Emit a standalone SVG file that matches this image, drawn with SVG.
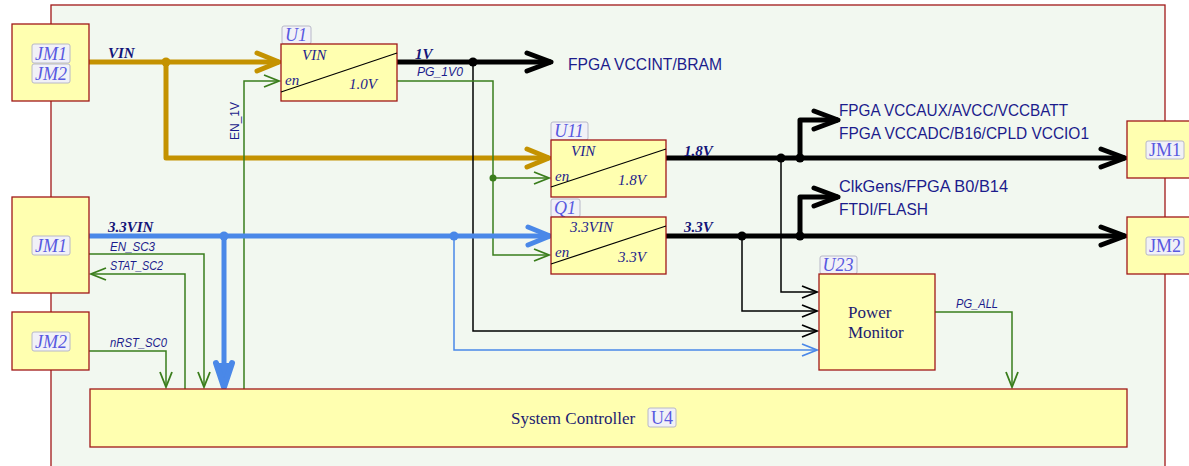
<svg xmlns="http://www.w3.org/2000/svg" width="1189" height="466" viewBox="0 0 1189 466">
<style>
.box{fill:#ffffb0;stroke:#a01818;stroke-width:1.3}
.badge{fill:#f1f1f7;stroke:#b8b8c8;stroke-width:1}
.bt{font-family:"Liberation Serif",serif;font-style:italic;font-size:18px;fill:#5858e0}
.btu{font-family:"Liberation Serif",serif;font-size:18px;fill:#5858e0}
.in{font-family:"Liberation Serif",serif;font-style:italic;font-size:15px;fill:#1c1c8c}
.net{font-family:"Liberation Serif",serif;font-style:italic;font-weight:bold;font-size:15px;fill:#141478}
.sig{font-family:"Liberation Sans",sans-serif;font-style:italic;font-size:12px;fill:#1c1c8c}
.dest{font-family:"Liberation Sans",sans-serif;font-size:17px;fill:#1c1c8c}
.lbl{font-family:"Liberation Serif",serif;font-size:17px;fill:#1c1c70}
.gold{fill:none;stroke:#c49200;stroke-width:5;stroke-linejoin:round}
.blk{fill:none;stroke:#000;stroke-width:5;stroke-linejoin:round}
.blue{fill:none;stroke:#4a88e8;stroke-width:5;stroke-linejoin:round}
.grn{fill:none;stroke:#3a7d1c;stroke-width:1.5}
.blkt{fill:none;stroke:#000;stroke-width:1.5}
.bluet{fill:none;stroke:#4a88e8;stroke-width:1.5}
.diag{stroke:#000;stroke-width:1.2}
</style>
<defs>
<marker id="mGold" markerUnits="userSpaceOnUse" orient="auto" refX="0" refY="0" overflow="visible"><path d="M-22,-9 L0,0 L-22,9" fill="none" stroke="#c49200" stroke-width="5" stroke-linecap="round" stroke-linejoin="round"/></marker>
<marker id="mBlk" markerUnits="userSpaceOnUse" orient="auto" refX="0" refY="0" overflow="visible"><path d="M-24,-9 L0,0 L-24,9" fill="none" stroke="#000" stroke-width="5" stroke-linecap="round" stroke-linejoin="round"/></marker>
<marker id="mBlue" markerUnits="userSpaceOnUse" orient="auto" refX="0" refY="0" overflow="visible"><path d="M-22,-9 L0,0 L-22,9" fill="none" stroke="#4a88e8" stroke-width="5" stroke-linecap="round" stroke-linejoin="round"/></marker>
<marker id="mBlueBig" markerUnits="userSpaceOnUse" orient="auto" refX="0" refY="0" overflow="visible"><path d="M-24,-8 L0,0 L-24,8" fill="#4a88e8" stroke="#4a88e8" stroke-width="6" stroke-linecap="round" stroke-linejoin="round"/></marker>
<marker id="mGrn" markerUnits="userSpaceOnUse" orient="auto" refX="0" refY="0" overflow="visible"><path d="M-15,-6 L0,0 L-15,6" fill="none" stroke="#3a7d1c" stroke-width="1.8"/></marker>
<marker id="mBlkT" markerUnits="userSpaceOnUse" orient="auto" refX="0" refY="0" overflow="visible"><path d="M-15,-6 L0,0 L-15,6" fill="none" stroke="#000" stroke-width="1.8"/></marker>
<marker id="mBlueT" markerUnits="userSpaceOnUse" orient="auto" refX="0" refY="0" overflow="visible"><path d="M-15,-6 L0,0 L-15,6" fill="none" stroke="#4a88e8" stroke-width="1.8"/></marker>
</defs>
<rect x="0" y="0" width="1189" height="466" fill="#ffffff"/>
<rect id="board" x="51" y="5" width="1114" height="462" fill="#f2f8f0" stroke="#a01818" stroke-width="1.3"/>

<g id="connectors">
<path class="gold" d="M89,62 H279" marker-end="url(#mGold)"/>
<path class="gold" d="M166,62 V158 H549" marker-end="url(#mGold)"/>
<circle cx="166" cy="62" r="4.5" fill="#c49200"/>
<path class="blk" d="M397,62 H551" marker-end="url(#mBlk)"/>
<circle cx="473" cy="62" r="4.5" fill="#000"/>
<path class="blkt" d="M473,62 V331 H817" marker-end="url(#mBlkT)"/>
<path class="grn" d="M397,81 H493 V255 H549" marker-end="url(#mGrn)"/>
<path class="grn" d="M493,178 H549" marker-end="url(#mGrn)"/>
<circle cx="493" cy="178" r="3.5" fill="#3a7d1c"/>
<path class="grn" d="M244,389 V81 H279" marker-end="url(#mGrn)"/>
<path class="blue" d="M89,236 H550" marker-end="url(#mBlue)"/>
<path class="blue" d="M224,236 V387" marker-end="url(#mBlueBig)"/>
<circle cx="224" cy="236" r="4.5" fill="#4a88e8"/>
<circle cx="454" cy="236" r="4.5" fill="#4a88e8"/>
<path class="bluet" d="M454,236 V350 H817" marker-end="url(#mBlueT)"/>
<path class="grn" d="M89,254 H204 V387" marker-end="url(#mGrn)"/>
<path class="grn" d="M185,389 V274 H91" marker-end="url(#mGrn)"/>
<path class="grn" d="M89,351 H166 V387" marker-end="url(#mGrn)"/>
<path class="blk" d="M666,158 H1125" marker-end="url(#mBlk)"/>
<path class="blk" d="M800,158 V120 H838" marker-end="url(#mBlk)"/>
<circle cx="781" cy="158" r="4.5" fill="#000"/>
<circle cx="800" cy="158" r="4.5" fill="#000"/>
<path class="blkt" d="M781,158 V292 H817" marker-end="url(#mBlkT)"/>
<path class="blk" d="M666,236 H1125" marker-end="url(#mBlk)"/>
<path class="blk" d="M800,236 V197 H838" marker-end="url(#mBlk)"/>
<circle cx="742" cy="236" r="4.5" fill="#000"/>
<circle cx="800" cy="236" r="4.5" fill="#000"/>
<path class="blkt" d="M742,236 V311 H817" marker-end="url(#mBlkT)"/>
<path class="grn" d="M935,312 H1012 V387" marker-end="url(#mGrn)"/>
</g>

<g id="net-labels">
<text class="net" x="108" y="58">VIN</text>
<text class="net" x="415" y="59">1V</text>
<text class="sig" x="417" y="76" textLength="46" lengthAdjust="spacingAndGlyphs">PG_1V0</text>
<text class="net" x="684" y="156">1.8V</text>
<text class="net" x="684" y="232">3.3V</text>
<text class="net" x="108" y="232">3.3VIN</text>
<text class="sig" x="110" y="251" textLength="45" lengthAdjust="spacingAndGlyphs">EN_SC3</text>
<text class="sig" x="110" y="270" textLength="53" lengthAdjust="spacingAndGlyphs">STAT_SC2</text>
<text class="sig" x="110" y="347" textLength="57" lengthAdjust="spacingAndGlyphs">nRST_SC0</text>
<text class="sig" x="956" y="308" textLength="42" lengthAdjust="spacingAndGlyphs">PG_ALL</text>
<text font-family="'Liberation Sans',sans-serif" font-size="12" fill="#1c1c8c" transform="translate(239,121) rotate(-90)" text-anchor="middle">EN_1V</text>
<text class="dest" x="568" y="70" textLength="154" lengthAdjust="spacingAndGlyphs">FPGA VCCINT/BRAM</text>
<text class="dest" x="839" y="116" textLength="229" lengthAdjust="spacingAndGlyphs">FPGA VCCAUX/AVCC/VCCBATT</text>
<text class="dest" x="839" y="139" textLength="250" lengthAdjust="spacingAndGlyphs">FPGA VCCADC/B16/CPLD VCCIO1</text>
<text class="dest" x="839" y="192" textLength="169" lengthAdjust="spacingAndGlyphs">ClkGens/FPGA B0/B14</text>
<text class="dest" x="839" y="215" textLength="89" lengthAdjust="spacingAndGlyphs">FTDI/FLASH</text>
</g>

<g id="jm-top-left">
<rect class="box" x="12" y="24" width="77" height="77"/>
<rect class="badge" x="32" y="44" width="38" height="19" rx="2"/>
<text class="bt" x="51" y="60" text-anchor="middle">JM1</text>
<rect class="badge" x="32" y="64" width="38" height="19" rx="2"/>
<text class="bt" x="51" y="80" text-anchor="middle">JM2</text>
</g>

<g id="jm1-left">
<rect class="box" x="12" y="197" width="77" height="96"/>
<rect class="badge" x="32" y="236" width="38" height="19" rx="2"/>
<text class="bt" x="51" y="252" text-anchor="middle">JM1</text>
</g>

<g id="jm2-left">
<rect class="box" x="12" y="312" width="77" height="58"/>
<rect class="badge" x="32" y="332" width="38" height="19" rx="2"/>
<text class="bt" x="51" y="348" text-anchor="middle">JM2</text>
</g>

<g id="u1">
<rect class="badge" x="282" y="26" width="29" height="18" rx="2"/>
<text class="bt" x="296" y="41" text-anchor="middle">U1</text>
<rect class="box" x="281" y="44" width="116" height="57"/>
<line class="diag" x1="281" y1="92" x2="397" y2="53"/>
<text class="in" x="302" y="60">VIN</text>
<text class="in" x="285" y="85">en</text>
<text class="in" x="349" y="89">1.0V</text>
</g>

<g id="u11">
<rect class="badge" x="551" y="122" width="37" height="18" rx="2"/>
<text class="bt" x="569" y="137" text-anchor="middle">U11</text>
<rect class="box" x="551" y="140" width="115" height="57"/>
<line class="diag" x1="551" y1="187" x2="666" y2="149"/>
<text class="in" x="571" y="156">VIN</text>
<text class="in" x="555" y="181">en</text>
<text class="in" x="618" y="185">1.8V</text>
</g>

<g id="q1">
<rect class="badge" x="551" y="199" width="29" height="18" rx="2"/>
<text class="bt" x="565" y="214" text-anchor="middle">Q1</text>
<rect class="box" x="551" y="217" width="115" height="57"/>
<line class="diag" x1="551" y1="264" x2="666" y2="226"/>
<text class="in" x="570" y="232">3.3VIN</text>
<text class="in" x="555" y="257">en</text>
<text class="in" x="618" y="262">3.3V</text>
</g>

<g id="u23">
<rect class="badge" x="820" y="256" width="37" height="18" rx="2"/>
<text class="bt" x="838" y="271" text-anchor="middle">U23</text>
<rect class="box" x="819" y="274" width="116" height="96"/>
<text class="lbl" x="848" y="318">Power</text>
<text class="lbl" x="848" y="338">Monitor</text>
</g>

<g id="u4">
<rect class="box" x="90" y="389" width="1037" height="58"/>
<text class="lbl" x="511" y="424">System Controller</text>
<rect class="badge" x="648" y="408" width="28" height="19" rx="2"/>
<text class="btu" x="662" y="424" text-anchor="middle">U4</text>
</g>

<g id="jm1-right">
<rect class="box" x="1127" y="121" width="70" height="57"/>
<rect class="badge" x="1146" y="141" width="38" height="18" rx="2"/>
<text class="btu" x="1165" y="156" text-anchor="middle">JM1</text>
</g>

<g id="jm2-right">
<rect class="box" x="1127" y="217" width="70" height="57"/>
<rect class="badge" x="1146" y="237" width="38" height="18" rx="2"/>
<text class="btu" x="1165" y="252" text-anchor="middle">JM2</text>
</g>
</svg>
